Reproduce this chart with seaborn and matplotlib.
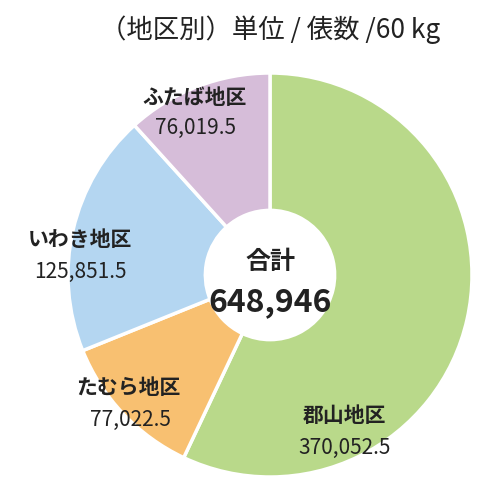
import matplotlib
matplotlib.use("Agg")
import matplotlib.pyplot as plt
import seaborn as sns

sns.set_theme(style="white")
plt.rcParams['font.family'] = ['Noto Sans CJK JP', 'DejaVu Sans']

regions = ["郡山地区", "たむら地区", "いわき地区", "ふたば地区"]
values = [370052.5, 77022.5, 125851.5, 76019.5]
value_labels = ["370,052.5", "77,022.5", "125,851.5", "76,019.5"]
colors = ["#b9d98a", "#f8c071", "#b4d6f1", "#d6bdd9"]
total_label = "648,946"

R = 202
fig = plt.figure(figsize=(5, 5), dpi=100)
ax = fig.add_axes([(270 - R) / 500, (225 - R) / 500, 2 * R / 500, 2 * R / 500])
ax.pie(values, colors=colors, startangle=90, counterclock=False, radius=1,
       wedgeprops=dict(width=0.68, edgecolor="white", linewidth=2.5))
ax.set_xlim(-1, 1); ax.set_ylim(-1, 1); ax.set_aspect("equal")

def P(px, py):
    return (px - 270) / R, (275 - py) / R

pos = [((345, 415), (345, 448)), ((128, 388), (130, 420)),
       ((80, 240), (80, 272)), ((195, 98), (195, 128))]
for name, vl, (p1, p2) in zip(regions, value_labels, pos):
    ax.text(*P(*p1), name, ha="center", va="center", fontsize=15, fontweight="bold", color="#222222")
    ax.text(*P(*p2), vl, ha="center", va="center", fontsize=15, color="#222222")

ax.text(*P(270, 262), "合計", ha="center", va="center", fontsize=18, fontweight="bold", color="#222222")
ax.text(*P(270, 302), total_label, ha="center", va="center", fontsize=23, fontweight="bold", color="#222222")

fig.text(0.54, 1 - 30 / 500, "（地区別）単位 / 俵数 /60 kg", ha="center", va="center", fontsize=19, color="#222222")
fig.savefig("out.png", dpi=100)
